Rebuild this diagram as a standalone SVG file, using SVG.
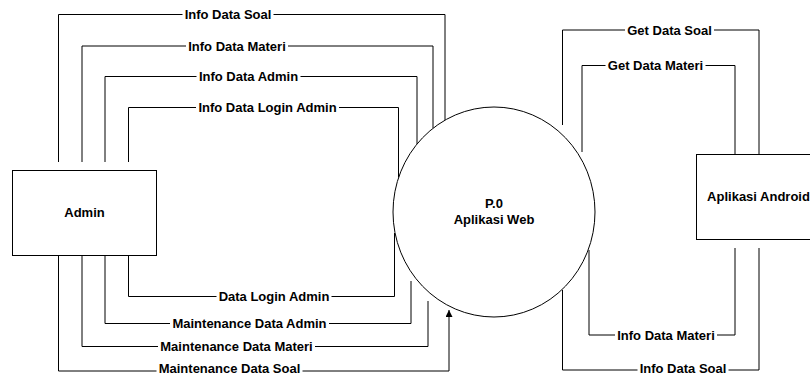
<svg xmlns="http://www.w3.org/2000/svg" width="810" height="376" viewBox="0 0 810 376">
  <style>
    .ln { fill: none; stroke: #000; stroke-width: 1; }
    .box { fill: #fff; stroke: #000; stroke-width: 1; }
    .bg { fill: #fff; }
    .lbl { font-family: "Liberation Sans", Arial, sans-serif; font-size: 13px; font-weight: bold; text-anchor: middle; fill: #000; }
  </style>
  <defs>
    <marker id="arrow" markerUnits="userSpaceOnUse" markerWidth="7" markerHeight="7" refX="7" refY="3.5" orient="auto">
      <path d="M0,0 L7,3.5 L0,7 Z" fill="#000"/>
    </marker>
  </defs>
  <rect width="810" height="376" fill="#fff"/>

  <!-- data flows -->
  <g id="flows">
    <!-- Web -> Admin -->
    <g id="flow-info-soal">
      <path class="ln" d="M58.5,162 V14.5 H445 V120"/>
      <rect class="bg" x="182.5" y="8" width="91" height="13"/>
      <text class="lbl" x="228" y="19">Info Data Soal</text>
    </g>
    <g id="flow-info-materi">
      <path class="ln" d="M82,162 V46 H433 V128"/>
      <rect class="bg" x="186" y="39.5" width="102" height="13"/>
      <text class="lbl" x="237" y="50.5">Info Data Materi</text>
    </g>
    <g id="flow-info-admin">
      <path class="ln" d="M105,162 V76.5 H417 V144"/>
      <rect class="bg" x="196.5" y="70" width="104" height="13"/>
      <text class="lbl" x="248.5" y="81">Info Data Admin</text>
    </g>
    <g id="flow-info-login">
      <path class="ln" d="M128.5,162 V107.5 H398.5 V177.5"/>
      <rect class="bg" x="196" y="101" width="143" height="13"/>
      <text class="lbl" x="267.5" y="112">Info Data Login Admin</text>
    </g>

    <!-- Admin -> Web -->
    <g id="flow-login">
      <path class="ln" d="M128.5,255 V296.5 H394.5 V233"/>
      <rect class="bg" x="216.5" y="290" width="115" height="13"/>
      <text class="lbl" x="274" y="301">Data Login Admin</text>
    </g>
    <g id="flow-mnt-admin">
      <path class="ln" d="M105,255 V323.5 H411 V281"/>
      <rect class="bg" x="170" y="317" width="159" height="13"/>
      <text class="lbl" x="249.5" y="328">Maintenance Data Admin</text>
    </g>
    <g id="flow-mnt-materi">
      <path class="ln" d="M82,255 V346.5 H428 V301"/>
      <rect class="bg" x="158" y="340" width="157" height="13"/>
      <text class="lbl" x="236.5" y="351">Maintenance Data Materi</text>
    </g>
    <g id="flow-mnt-soal">
      <path class="ln" d="M58.5,255 V371 H449 V310" marker-end="url(#arrow)"/>
      <rect class="bg" x="156.5" y="364.5" width="146" height="11.5"/>
      <text class="lbl" x="229.5" y="373">Maintenance Data Soal</text>
    </g>

    <!-- Android <-> Web -->
    <g id="flow-get-soal">
      <path class="ln" d="M562.5,125 V30 H759 V154"/>
      <rect class="bg" x="625" y="23.5" width="89" height="13"/>
      <text class="lbl" x="669.5" y="34.5">Get Data Soal</text>
    </g>
    <g id="flow-get-materi">
      <path class="ln" d="M582,152 V65.5 H735 V154"/>
      <rect class="bg" x="605.5" y="59" width="100" height="13"/>
      <text class="lbl" x="655.5" y="70">Get Data Materi</text>
    </g>
    <g id="flow-android-materi">
      <path class="ln" d="M735,248 V335 H589 V250"/>
      <rect class="bg" x="615" y="328.5" width="102" height="13"/>
      <text class="lbl" x="666" y="339.5">Info Data Materi</text>
    </g>
    <g id="flow-android-soal">
      <path class="ln" d="M759,248 V370 H562.5 V290"/>
      <rect class="bg" x="637.5" y="363.5" width="91" height="12.5"/>
      <text class="lbl" x="683" y="373">Info Data Soal</text>
    </g>
  </g>

  <!-- external entity: Admin -->
  <g id="admin">
    <rect class="box" x="12.5" y="170.5" width="144" height="85"/>
    <text class="lbl" x="84.5" y="217">Admin</text>
  </g>

  <!-- process P.0 -->
  <g id="web">
    <ellipse class="box" cx="494" cy="212" rx="101" ry="105"/>
    <text class="lbl" x="494" y="208">P.0</text>
    <text class="lbl" x="494" y="224">Aplikasi Web</text>
  </g>

  <!-- external entity: Android app -->
  <g id="android">
    <rect class="box" x="696.5" y="154.5" width="124" height="85"/>
    <text class="lbl" x="758.5" y="201">Aplikasi Android</text>
  </g>
</svg>
